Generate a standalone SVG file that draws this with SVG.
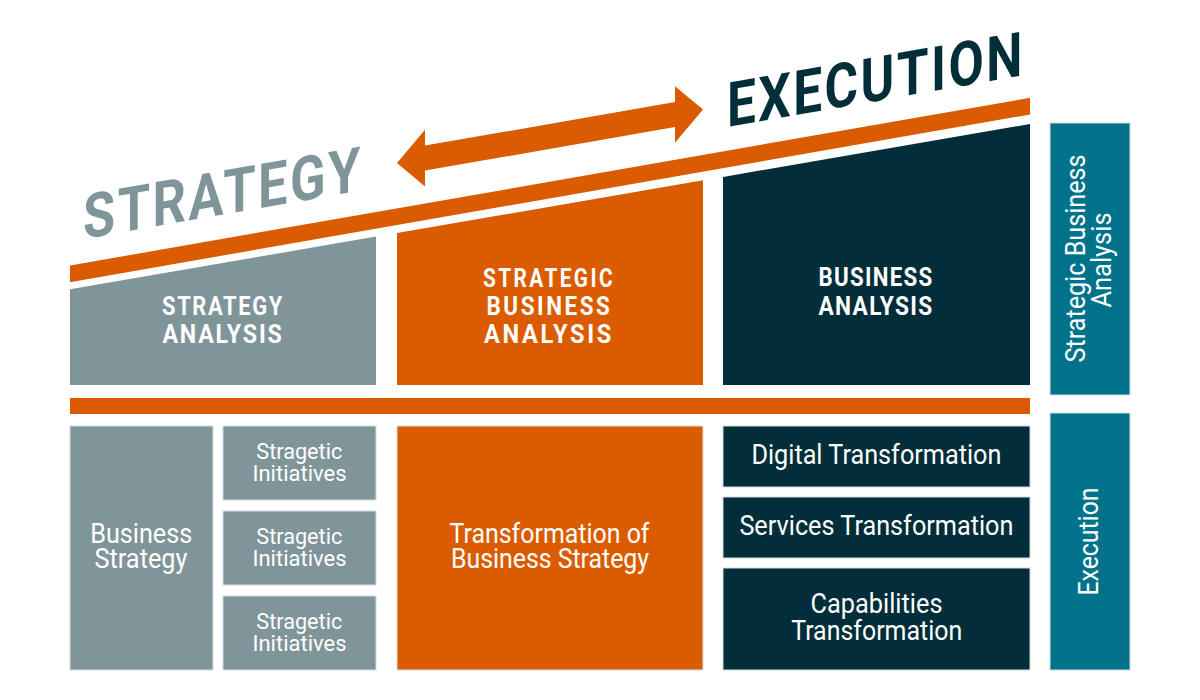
<svg xmlns="http://www.w3.org/2000/svg" width="1200" height="700" viewBox="0 0 1200 700">
  <style>
    .gray { fill: #7f959a; }
    .orange { fill: #db5c00; }
    .dark { fill: #022e3a; }
    .teal { fill: #00728a; }
    .box { stroke: #d3dcdf; stroke-width: 1; }
    .t { font-family: "Roboto", "Liberation Sans", sans-serif; fill: #ffffff; text-anchor: middle; }
    .hdr { font-weight: 700; font-size: 26px; }
    .lbl { font-weight: 400; font-size: 27px; }
    .sm { font-weight: 400; font-size: 22.5px; }
    .big { font-family: "Roboto", "Liberation Sans", sans-serif; font-weight: 700; font-size: 62px; letter-spacing: 3px; }
  </style>
  <rect x="0" y="0" width="1200" height="700" fill="#ffffff"/>

  <!-- Title texts -->
  <g id="title-strategy" transform="translate(83,239) skewY(-9.9)">
    <text class="big gray" x="0" y="0" textLength="280" lengthAdjust="spacingAndGlyphs">STRATEGY</text>
  </g>
  <g id="title-execution" transform="translate(727,127) skewY(-9.9)">
    <text class="big dark" x="0" y="0" textLength="298" lengthAdjust="spacingAndGlyphs">EXECUTION</text>
  </g>

  <!-- Connectors / decorations -->
  <g id="connectors">
    <path class="orange" transform="translate(397,163) skewY(-9.9)" d="M0,0 L28,-28.3 L28,-12.5 L278,-12.5 L278,-28.3 L306,0 L278,28.3 L278,12.5 L28,12.5 L28,28.3 Z"/>
    <polygon class="orange" points="70,265.5 1030,97.8 1030,114.5 70,282.2"/>
    <rect class="orange" x="70" y="398" width="960" height="16"/>
  </g>

  <!-- Top row -->
  <g id="strategy-analysis">
    <polygon class="gray" points="70,289.3 376,236.6 376,385 70,385"/>
    <text class="t hdr" letter-spacing="2" x="223" y="315" textLength="122" lengthAdjust="spacingAndGlyphs">STRATEGY</text>
    <text class="t hdr" letter-spacing="2" x="223" y="343" textLength="121" lengthAdjust="spacingAndGlyphs">ANALYSIS</text>
  </g>
  <g id="strategic-business-analysis">
    <polygon class="orange" points="397,233 703,180.3 703,385 397,385"/>
    <text class="t hdr" letter-spacing="3" x="549" y="287" textLength="132" lengthAdjust="spacingAndGlyphs">STRATEGIC</text>
    <text class="t hdr" letter-spacing="3" x="549.5" y="315" textLength="126" lengthAdjust="spacingAndGlyphs">BUSINESS</text>
    <text class="t hdr" letter-spacing="3" x="549" y="343" textLength="130" lengthAdjust="spacingAndGlyphs">ANALYSIS</text>
  </g>
  <g id="business-analysis">
    <polygon class="dark" points="723,176.9 1030,124 1030,385 723,385"/>
    <text class="t hdr" letter-spacing="1.5" x="876" y="286" textLength="115" lengthAdjust="spacingAndGlyphs">BUSINESS</text>
    <text class="t hdr" letter-spacing="1.5" x="876" y="315" textLength="115" lengthAdjust="spacingAndGlyphs">ANALYSIS</text>
  </g>

  <!-- Bottom row -->
  <g id="business-strategy">
    <rect class="gray box" x="70" y="426" width="143" height="244"/>
    <text class="t lbl" x="141.2" y="543" textLength="102" lengthAdjust="spacingAndGlyphs">Business</text>
    <text class="t lbl" x="141" y="568" textLength="93" lengthAdjust="spacingAndGlyphs">Strategy</text>
  </g>
  <g id="initiatives-1">
    <rect class="gray box" x="223" y="426" width="153" height="74"/>
    <text class="t sm" x="299.3" y="459" textLength="86" lengthAdjust="spacingAndGlyphs">Stragetic</text>
    <text class="t sm" x="299.5" y="481" textLength="94" lengthAdjust="spacingAndGlyphs">Initiatives</text>
  </g>
  <g id="initiatives-2">
    <rect class="gray box" x="223" y="511" width="153" height="74"/>
    <text class="t sm" x="299.3" y="544" textLength="86" lengthAdjust="spacingAndGlyphs">Stragetic</text>
    <text class="t sm" x="299.5" y="566" textLength="94" lengthAdjust="spacingAndGlyphs">Initiatives</text>
  </g>
  <g id="initiatives-3">
    <rect class="gray box" x="223" y="596" width="153" height="74"/>
    <text class="t sm" x="299.3" y="629" textLength="86" lengthAdjust="spacingAndGlyphs">Stragetic</text>
    <text class="t sm" x="299.5" y="651" textLength="94" lengthAdjust="spacingAndGlyphs">Initiatives</text>
  </g>
  <g id="transformation-of-business-strategy">
    <rect class="orange box" x="397" y="426" width="306" height="244"/>
    <text class="t lbl" x="549.5" y="543" textLength="200" lengthAdjust="spacingAndGlyphs">Transformation of</text>
    <text class="t lbl" x="550" y="568" textLength="198" lengthAdjust="spacingAndGlyphs">Business Strategy</text>
  </g>
  <g id="digital-transformation">
    <rect class="dark box" x="723" y="426" width="307" height="61"/>
    <text class="t lbl" x="876.4" y="464" textLength="250" lengthAdjust="spacingAndGlyphs">Digital Transformation</text>
  </g>
  <g id="services-transformation">
    <rect class="dark box" x="723" y="497" width="307" height="61"/>
    <text class="t lbl" x="876.4" y="535" textLength="274" lengthAdjust="spacingAndGlyphs">Services Transformation</text>
  </g>
  <g id="capabilities-transformation">
    <rect class="dark box" x="723" y="568" width="307" height="102"/>
    <text class="t lbl" x="876.5" y="613" textLength="132" lengthAdjust="spacingAndGlyphs">Capabilities</text>
    <text class="t lbl" x="876.7" y="640" textLength="171" lengthAdjust="spacingAndGlyphs">Transformation</text>
  </g>

  <!-- Right side panels -->
  <g id="side-strategic-business-analysis">
    <rect class="teal box" x="1050" y="123" width="80" height="272"/>
    <text class="t lbl" transform="translate(1085,258.5) rotate(-90)" x="0" y="0" textLength="208" lengthAdjust="spacingAndGlyphs">Strategic Business</text>
    <text class="t lbl" transform="translate(1111,260) rotate(-90)" x="0" y="0" textLength="95" lengthAdjust="spacingAndGlyphs">Analysis</text>
  </g>
  <g id="side-execution">
    <rect class="teal box" x="1050" y="413" width="80" height="257"/>
    <text class="t lbl" transform="translate(1098,541.5) rotate(-90)" x="0" y="0" textLength="108" lengthAdjust="spacingAndGlyphs">Execution</text>
  </g>
</svg>
